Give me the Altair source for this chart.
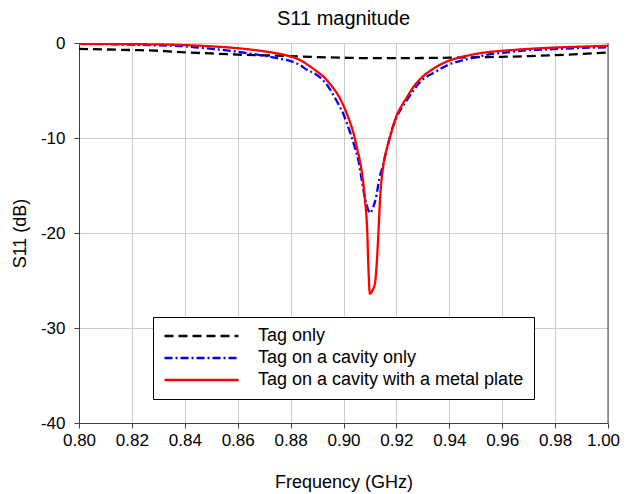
import altair as alt
import pandas as pd

series_names = ["Tag only", "Tag on a cavity only", "Tag on a cavity with a metal plate"]
series_colors = ["#000000", "#0000ff", "#ff0000"]
series_dashes = [[9, 5], [8, 3, 2, 3], [1, 0]]

tag_f = [0.800, 0.810, 0.820, 0.830, 0.840, 0.850, 0.860, 0.870, 0.880, 0.890, 0.900,
         0.910, 0.920, 0.930, 0.940, 0.950, 0.960, 0.970, 0.980, 0.990, 1.000]
tag_db = [-0.62, -0.68, -0.74, -0.82, -0.98, -1.10, -1.22, -1.30, -1.38, -1.48, -1.55,
          -1.60, -1.60, -1.58, -1.55, -1.50, -1.45, -1.38, -1.28, -1.15, -1.00]

cav_f = [0.800, 0.810, 0.820, 0.830, 0.840, 0.8457, 0.855, 0.862, 0.870, 0.876, 0.880,
         0.884, 0.886, 0.889, 0.891, 0.894, 0.896, 0.898, 0.900, 0.9012, 0.9031, 0.9045,
         0.9056, 0.9066, 0.9081, 0.9094, 0.9100, 0.9112, 0.9125, 0.9135, 0.9144, 0.9163,
         0.9182, 0.9200, 0.9240, 0.9290, 0.9350, 0.9400, 0.9440, 0.9500, 0.9550, 0.9620,
         0.9680, 0.9750, 0.9830, 0.9900, 1.0000]
cav_db = [-0.10, -0.12, -0.18, -0.25, -0.35, -0.50, -0.75, -1.00, -1.35, -1.65, -1.90,
          -2.40, -2.80, -3.20, -3.60, -4.50, -5.40, -6.40, -7.50, -8.40, -9.90, -11.2,
          -12.3, -13.9, -16.3, -17.6, -17.9, -17.3, -16.0, -14.3, -13.4, -11.3,
          -9.2, -7.9, -6.0, -4.1, -3.0, -2.25, -1.90, -1.50, -1.20, -0.98,
          -0.80, -0.70, -0.60, -0.52, -0.45]

plate_f = [0.800, 0.810, 0.820, 0.830, 0.840, 0.850, 0.860, 0.868, 0.875, 0.880, 0.884,
           0.887, 0.890, 0.893, 0.896, 0.898, 0.900, 0.902, 0.904, 0.9053, 0.9066, 0.9075,
           0.9081, 0.9090, 0.9094, 0.9100, 0.9110, 0.9119, 0.9125, 0.9132, 0.9138, 0.9150,
           0.9165, 0.9180, 0.9200, 0.9220, 0.9240, 0.9265, 0.9290, 0.9340, 0.9400, 0.9450,
           0.9500, 0.9550, 0.9620, 0.9700, 0.9800, 0.9900, 1.0000]
plate_db = [-0.10, -0.10, -0.12, -0.15, -0.22, -0.35, -0.55, -0.80, -1.10, -1.42, -1.85,
            -2.40, -3.00, -3.70, -4.70, -5.50, -6.60, -8.00, -9.70, -11.3, -13.0, -14.8,
            -16.5, -20.0, -23.5, -26.4, -26.0, -25.3, -23.5, -20.0, -16.5, -13.0,
            -11.0, -9.5, -7.7, -6.6, -5.7, -4.6, -3.8, -2.7, -1.85, -1.45,
            -1.15, -0.95, -0.78, -0.62, -0.48, -0.38, -0.30]

x_ticks = [0.80, 0.82, 0.84, 0.86, 0.88, 0.90, 0.92, 0.94, 0.96, 0.98, 1.00]
y_ticks = [0, -10, -20, -30, -40]

rows = []
for name, fs, ds in zip(series_names, [tag_f, cav_f, plate_f], [tag_db, cav_db, plate_db]):
    for f, d in zip(fs, ds):
        rows.append({"series": name, "freq": f, "s11": d})
df = pd.DataFrame(rows)

FONT = "Liberation Sans"

legend = alt.Legend(
    title=None, orient="none", legendX=74, legendY=274,
    symbolType="stroke", symbolSize=5476, symbolStrokeWidth=2.5, clipHeight=18,
    labelFontSize=18, labelFont=FONT, labelColor="black", labelOffset=18,
    labelLimit=0, padding=10, rowPadding=4,
    strokeColor="black", fillColor="white", cornerRadius=0,
)

x_enc = alt.X("freq:Q", scale=alt.Scale(domain=[0.8, 1.0], nice=False, zero=False),
              axis=alt.Axis(values=x_ticks, format=".2f", title="Frequency (GHz)",
                            labelPadding=4, titlePadding=25, labelFlush=False,
                            labelOverlap=False,
                            labelOffset={"condition": {"test": "datum.value > 0.995", "value": -5},
                                         "value": 0}))
y_enc = alt.Y("s11:Q", scale=alt.Scale(domain=[-40, 0], nice=False),
              axis=alt.Axis(values=y_ticks, labelExpr="'' + datum.value", title="S11 (dB)",
                            labelPadding=9, titlePadding=11))

lines = alt.Chart(df).mark_line(interpolate="monotone", clip=True, strokeWidth=2.3).encode(
    x=x_enc,
    y=y_enc,
    color=alt.Color("series:N", scale=alt.Scale(domain=series_names, range=series_colors),
                    legend=legend),
    strokeDash=alt.StrokeDash("series:N", scale=alt.Scale(domain=series_names, range=series_dashes),
                              legend=legend),
)

border = alt.Chart(pd.DataFrame({"x": [1.0]})).mark_rule(color="#404040", strokeWidth=1).encode(
    x=alt.X("x:Q")
)

chart = alt.layer(lines, border).properties(
    width=529, height=380,
    title=alt.Title("S11 magnitude", fontSize=20, font=FONT, fontWeight="normal",
                    color="black", anchor="middle", frame="group", offset=5),
    autosize=alt.AutoSizeParams(type="none"),
    padding={"left": 71, "top": 35, "right": 12, "bottom": 70},
).configure_view(stroke=None).configure_axis(
    domainColor="#404040", tickColor="#404040", gridColor="#cccccc",
    labelFont=FONT, labelFontSize=17, labelColor="black",
    titleFont=FONT, titleFontSize=18, titleFontWeight="normal", titleColor="black",
    tickSize=5,
)

chart.save("out.html", embed_options={"renderer": "svg", "actions": False})
